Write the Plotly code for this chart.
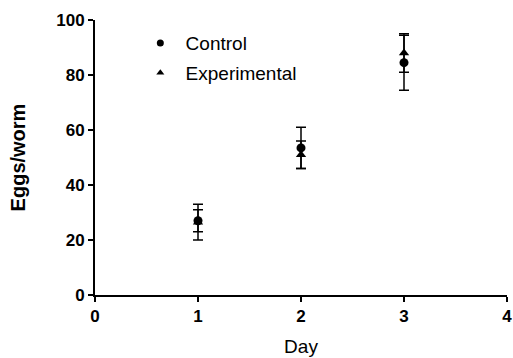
import plotly.graph_objects as go

days = [1, 2, 3]
control = [27, 53.5, 84.5]
control_err = [4, 7.5, 10]
experimental = [26.5, 51, 88]
experimental_err = [6.5, 5, 7]
x_ticks = [0, 1, 2, 3, 4]
y_ticks = [0, 20, 40, 60, 80, 100]

fig = go.Figure()
fig.add_trace(go.Scatter(
    x=days, y=control, mode="markers", name="Control", showlegend=False,
    marker=dict(symbol="circle", size=9, color="black"),
    error_y=dict(type="data", array=control_err, color="black", thickness=1.5, width=5),
))
fig.add_trace(go.Scatter(
    x=days, y=experimental, mode="markers", name="Experimental", showlegend=False,
    marker=dict(symbol="triangle-up", size=9, color="black"),
    error_y=dict(type="data", array=experimental_err, color="black", thickness=1.5, width=5),
))
# legend entries (smaller symbols as in the reference)
fig.add_trace(go.Scatter(x=[None], y=[None], mode="markers", name="&nbsp;Control", legendgroup="c",
                         marker=dict(symbol="circle", size=7, color="black")))
fig.add_trace(go.Scatter(x=[None], y=[None], mode="markers", name="&nbsp;Experimental", legendgroup="e",
                         marker=dict(symbol="triangle-up", size=7, color="black")))

tickfont = dict(family="Liberation Sans", size=17, color="black", weight="bold")
fig.update_layout(
    width=513, height=358,
    margin=dict(l=95, r=6, t=20, b=63, autoexpand=False),
    plot_bgcolor="white", paper_bgcolor="white",
    font=dict(family="Liberation Sans", color="black"),
    showlegend=True,
    legend=dict(x=0.11, y=0.985, xanchor="left", yanchor="top",
                font=dict(size=19, family="Liberation Sans", color="black"),
                tracegroupgap=2, bgcolor="rgba(0,0,0,0)", itemsizing="trace"),
    xaxis=dict(range=[0, 4], tickvals=x_ticks, showline=True, linecolor="black", linewidth=2,
               ticks="outside", ticklen=5, tickwidth=2, tickcolor="black", showgrid=False,
               zeroline=False, tickfont=tickfont, automargin=False,
               title=dict(text="Day", font=dict(size=19, family="Liberation Sans"), standoff=14)),
    yaxis=dict(range=[0, 100], tickvals=y_ticks, showline=True, linecolor="black", linewidth=2,
               ticks="outside", ticklen=5, tickwidth=2, tickcolor="black", showgrid=False,
               zeroline=False, tickfont=tickfont, automargin=False,
               title=dict(text="Eggs/worm", font=dict(size=20, family="Liberation Sans", weight="bold"), standoff=25)),
)
fig.write_html("out.html")
